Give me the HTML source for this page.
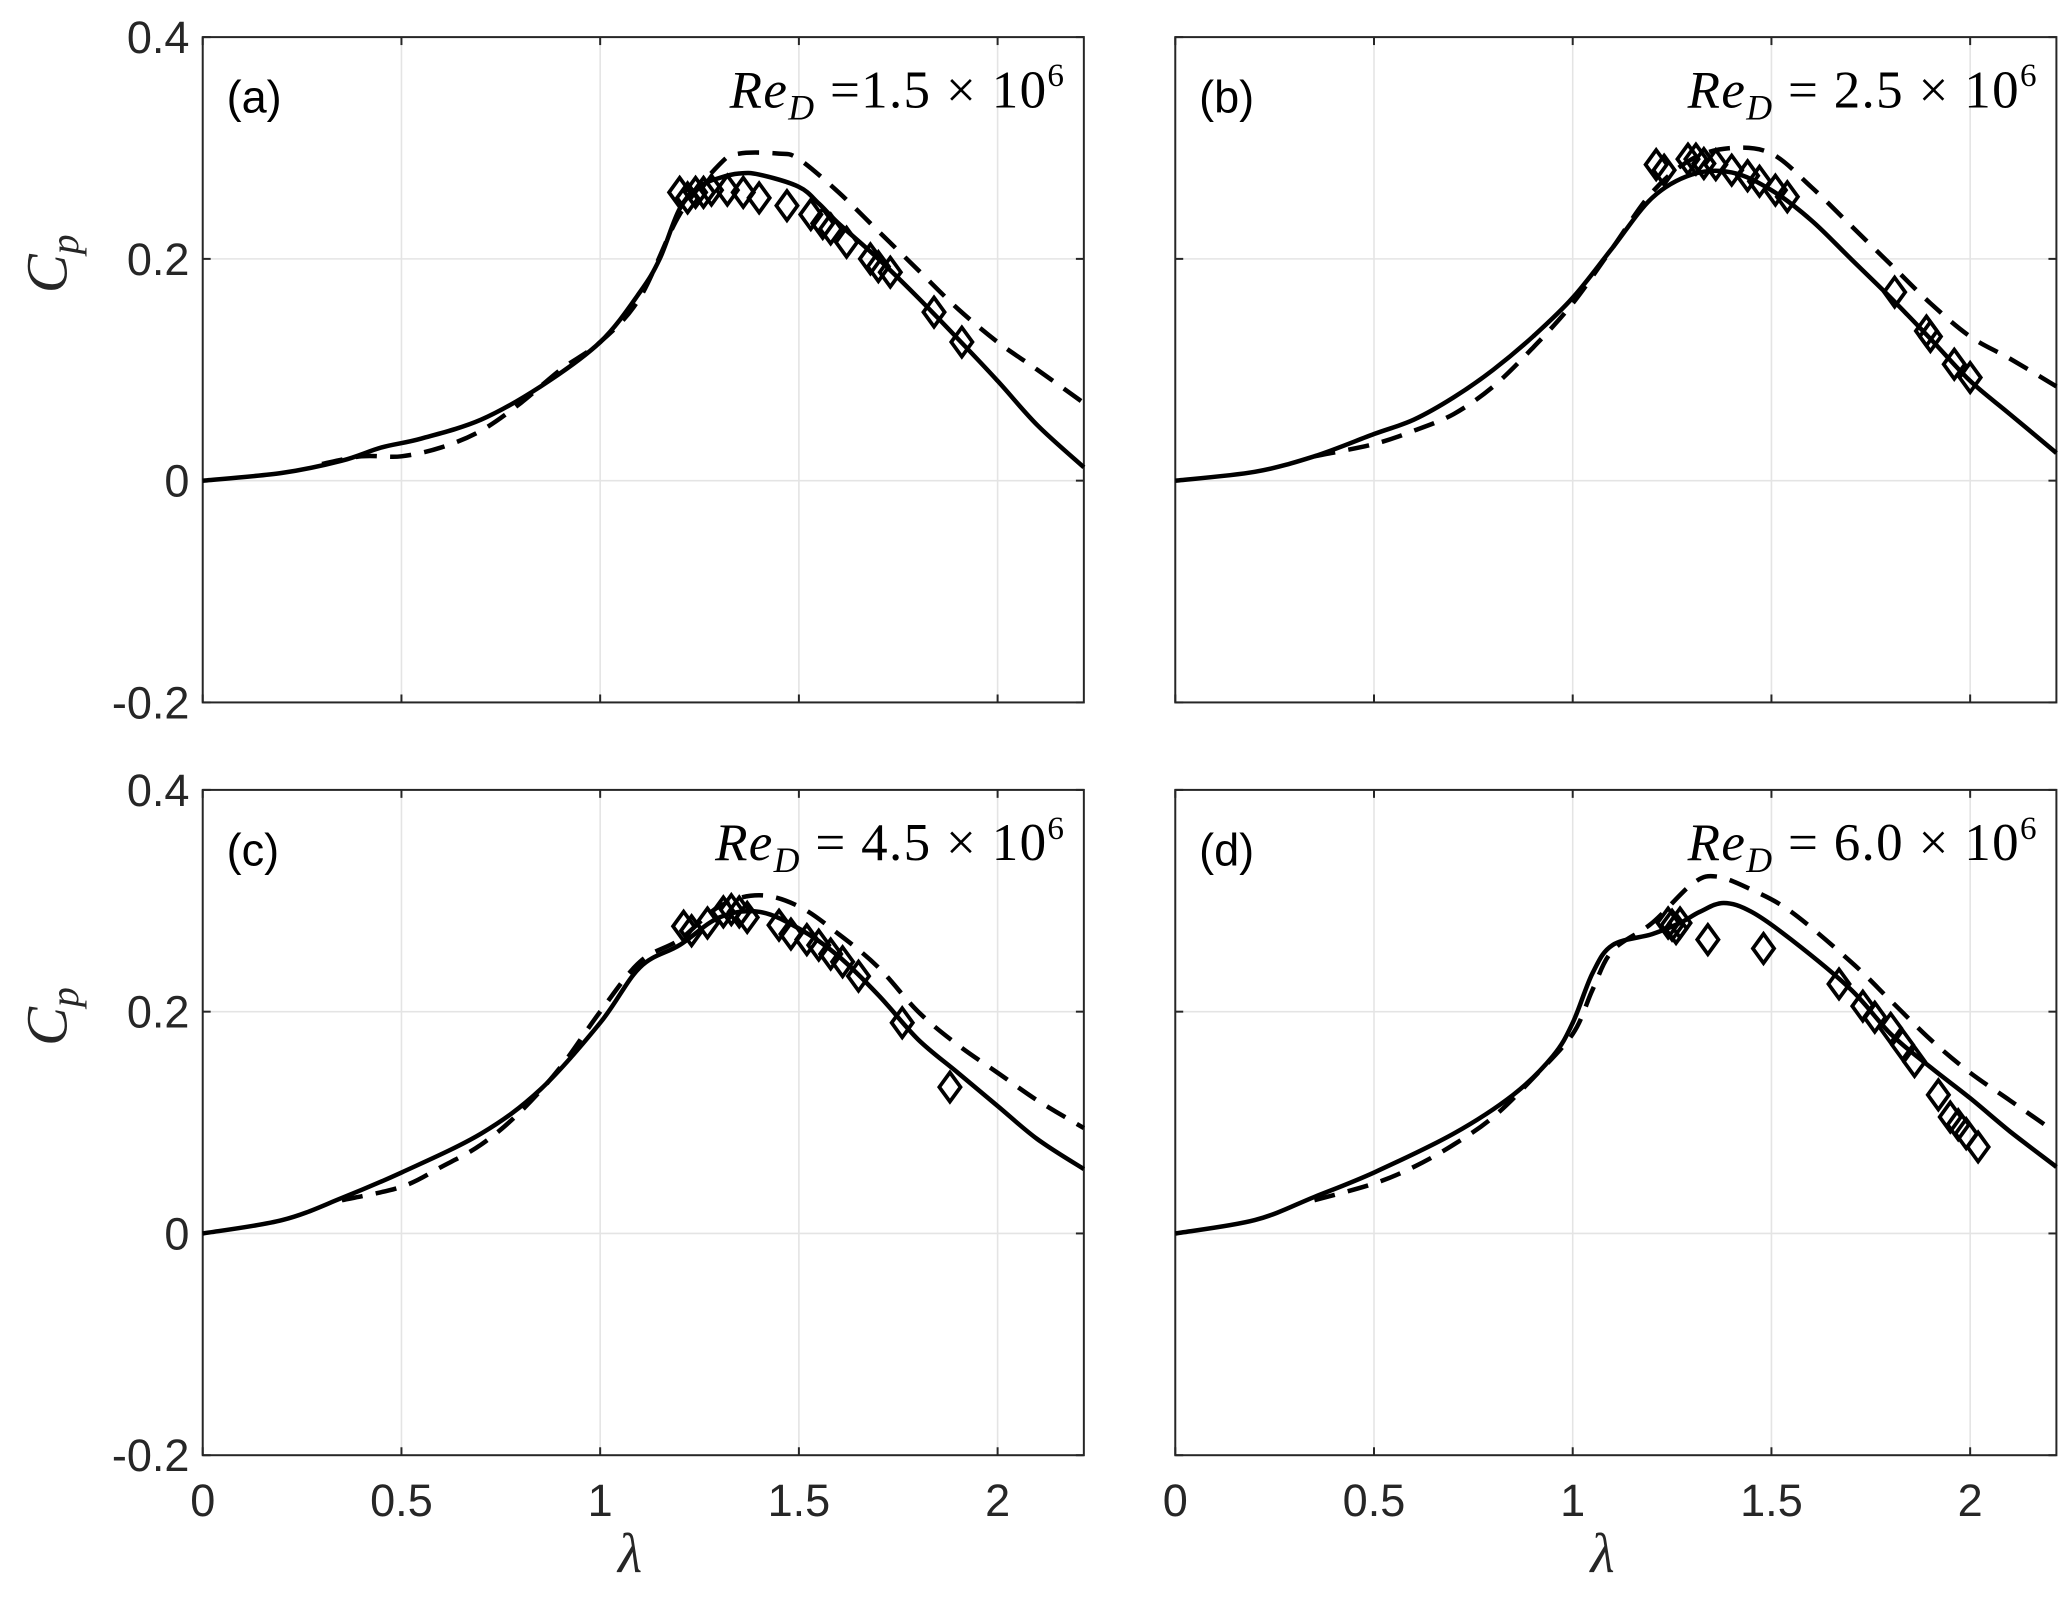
<!DOCTYPE html>
<html><head><meta charset="utf-8"><style>
html,body{margin:0;padding:0;background:#fff;}
svg{display:block;}
text{font-family:"Liberation Sans",sans-serif;}
text.serif{font-family:"Liberation Serif",serif;}
</style></head><body>
<svg id="fig" width="2067" height="1601" viewBox="0 0 1560 1208" preserveAspectRatio="none" xmlns="http://www.w3.org/2000/svg"></svg>
<script>
const xTicks=[0,0.5,1,1.5,2];
const xTickLabels=["0","0.5","1","1.5","2"];
const yTicks=[0.4,0.2,0,-0.2];
const yTickLabels=["0.4","0.2","0","-0.2"];
const panelLabels=["(a)","(b)","(c)","(d)"];
const reValues=["=1.5","= 2.5","= 4.5","= 6.0"];
const solidA=[[0,0],[0.2,0.007],[0.35,0.018],[0.45,0.03],[0.55,0.038],[0.7,0.055],[0.85,0.085],[1.0,0.125],[1.1,0.17],[1.15,0.2],[1.2,0.245],[1.25,0.265],[1.3,0.273],[1.35,0.277],[1.4,0.276],[1.5,0.265],[1.55,0.25],[1.6,0.232],[1.7,0.2],[1.8,0.165],[1.9,0.128],[2.0,0.09],[2.1,0.05],[2.217,0.012]];
const dashA=[[0.3,0.015],[0.4,0.022],[0.5,0.022],[0.6,0.03],[0.7,0.045],[0.8,0.07],[0.9,0.1],[1.0,0.125],[1.1,0.165],[1.2,0.24],[1.3,0.285],[1.35,0.295],[1.45,0.295],[1.5,0.29],[1.6,0.26],[1.7,0.225],[1.8,0.19],[1.9,0.155],[2.0,0.125],[2.1,0.1],[2.217,0.07]];
const markA=[[1.2,0.26],[1.22,0.255],[1.24,0.26],[1.26,0.26],[1.28,0.262],[1.32,0.262],[1.36,0.26],[1.4,0.255],[1.47,0.248],[1.53,0.24],[1.56,0.232],[1.58,0.227],[1.62,0.215],[1.68,0.2],[1.7,0.193],[1.73,0.188],[1.84,0.152],[1.91,0.125]];
const solidB=[[0,0],[0.2,0.008],[0.35,0.022],[0.5,0.042],[0.6,0.055],[0.7,0.075],[0.8,0.1],[0.9,0.13],[1.0,0.165],[1.1,0.21],[1.2,0.255],[1.3,0.276],[1.4,0.278],[1.5,0.262],[1.6,0.235],[1.7,0.2],[1.8,0.165],[1.9,0.128],[2.0,0.09],[2.1,0.06],[2.217,0.025]];
const dashB=[[0.35,0.022],[0.5,0.033],[0.6,0.045],[0.7,0.06],[0.8,0.085],[0.9,0.12],[1.0,0.16],[1.1,0.21],[1.2,0.26],[1.3,0.29],[1.4,0.3],[1.5,0.295],[1.6,0.265],[1.7,0.23],[1.8,0.195],[1.9,0.16],[2.0,0.13],[2.1,0.11],[2.217,0.085]];
const markB=[[1.21,0.285],[1.23,0.28],[1.29,0.29],[1.31,0.29],[1.33,0.286],[1.36,0.285],[1.4,0.28],[1.44,0.275],[1.47,0.27],[1.51,0.262],[1.54,0.256],[1.81,0.17],[1.89,0.135],[1.9,0.13],[1.96,0.105],[2.0,0.093]];
const solidC=[[0,0],[0.2,0.012],[0.35,0.032],[0.5,0.055],[0.7,0.09],[0.85,0.13],[1.0,0.19],[1.1,0.24],[1.2,0.26],[1.3,0.285],[1.4,0.29],[1.5,0.275],[1.6,0.25],[1.7,0.215],[1.8,0.175],[1.9,0.145],[2.0,0.115],[2.1,0.085],[2.217,0.058]];
const dashC=[[0.35,0.03],[0.5,0.042],[0.6,0.06],[0.7,0.08],[0.8,0.11],[0.9,0.15],[1.0,0.2],[1.1,0.245],[1.2,0.265],[1.3,0.295],[1.4,0.305],[1.5,0.295],[1.6,0.27],[1.7,0.24],[1.8,0.2],[1.9,0.17],[2.0,0.145],[2.1,0.12],[2.217,0.095]];
const markC=[[1.21,0.277],[1.23,0.273],[1.27,0.28],[1.31,0.29],[1.33,0.292],[1.35,0.29],[1.37,0.285],[1.45,0.278],[1.48,0.27],[1.52,0.265],[1.55,0.26],[1.58,0.252],[1.61,0.245],[1.65,0.232],[1.76,0.19],[1.88,0.132]];
const solidD=[[0,0],[0.2,0.012],[0.35,0.033],[0.5,0.055],[0.7,0.09],[0.85,0.125],[0.95,0.16],[1.0,0.19],[1.05,0.235],[1.1,0.26],[1.2,0.27],[1.27,0.28],[1.32,0.29],[1.38,0.298],[1.45,0.29],[1.55,0.265],[1.7,0.22],[1.8,0.18],[1.9,0.15],[2.0,0.122],[2.1,0.092],[2.217,0.06]];
const dashD=[[0.35,0.03],[0.5,0.045],[0.6,0.06],[0.7,0.08],[0.8,0.105],[0.9,0.14],[1.0,0.18],[1.05,0.22],[1.1,0.255],[1.2,0.28],[1.3,0.315],[1.36,0.322],[1.45,0.31],[1.55,0.29],[1.7,0.245],[1.8,0.21],[1.9,0.175],[2.0,0.145],[2.1,0.12],[2.2,0.095]];
const markD=[[1.24,0.28],[1.25,0.278],[1.26,0.275],[1.27,0.28],[1.34,0.265],[1.48,0.257],[1.67,0.225],[1.73,0.205],[1.76,0.195],[1.8,0.185],[1.83,0.17],[1.86,0.155],[1.92,0.125],[1.95,0.105],[1.97,0.098],[1.99,0.09],[2.02,0.078]];

const NS="http://www.w3.org/2000/svg";
const svg=document.getElementById('fig');
function mk(tag,attrs,parent){const e=document.createElementNS(NS,tag);for(const k in attrs)e.setAttribute(k,attrs[k]);(parent||svg).appendChild(e);return e;}
const panels=[
 {x0:153,y0:28,solid:solidA,dash:dashA,mark:markA,yl:true,xl:false},
 {x0:887,y0:28,solid:solidB,dash:dashB,mark:markB,yl:false,xl:false},
 {x0:153,y0:596,solid:solidC,dash:dashC,mark:markC,yl:true,xl:true},
 {x0:887,y0:596,solid:solidD,dash:dashD,mark:markD,yl:false,xl:true}];
const XMAX=2.217, W=665, H=502;
function smooth(pts){
 let d='M'+pts[0][0].toFixed(1)+','+pts[0][1].toFixed(1);
 for(let i=0;i<pts.length-1;i++){
  const p0=pts[Math.max(0,i-1)],p1=pts[i],p2=pts[i+1],p3=pts[Math.min(pts.length-1,i+2)];
  const c1x=p1[0]+(p2[0]-p0[0])/6,c1y=p1[1]+(p2[1]-p0[1])/6;
  const c2x=p2[0]-(p3[0]-p1[0])/6,c2y=p2[1]-(p3[1]-p1[1])/6;
  d+=` C${c1x.toFixed(1)},${c1y.toFixed(1)} ${c2x.toFixed(1)},${c2y.toFixed(1)} ${p2[0].toFixed(1)},${p2[1].toFixed(1)}`;
 }
 return d;
}
panels.forEach((p,i)=>{
 const g=mk('g',{});
 
 
 const sx=v=>p.x0+v/XMAX*W;
 const sy=v=>p.y0+(0.4-v)/0.6*H;
 xTicks.forEach(t=>{const l=mk('line',{x1:sx(t),x2:sx(t),y1:p.y0,y2:p.y0+H,stroke:'#e4e4e4','stroke-width':1.2},g);
  });
 yTicks.forEach(t=>{const l=mk('line',{x1:p.x0,x2:p.x0+W,y1:sy(t),y2:sy(t),stroke:'#e4e4e4','stroke-width':1.2},g);
  });
 const fr=mk('rect',{x:p.x0,y:p.y0,width:W,height:H,fill:'none',stroke:'#262626','stroke-width':1.5},g);
 
 xTicks.forEach(t=>{mk('line',{x1:sx(t),x2:sx(t),y1:p.y0+H,y2:p.y0+H-6,stroke:'#262626','stroke-width':1.5},g);mk('line',{x1:sx(t),x2:sx(t),y1:p.y0,y2:p.y0+6,stroke:'#262626','stroke-width':1.5},g);});
 yTicks.forEach(t=>{mk('line',{x1:p.x0,x2:p.x0+6,y1:sy(t),y2:sy(t),stroke:'#262626','stroke-width':1.5},g);mk('line',{x1:p.x0+W,x2:p.x0+W-6,y1:sy(t),y2:sy(t),stroke:'#262626','stroke-width':1.5},g);});
 if(p.yl){yTicks.forEach((t,j)=>{const tx=mk('text',{x:p.x0-10,y:sy(t)+12,'text-anchor':'end','font-size':34,fill:'#262626'},g);tx.textContent=yTickLabels[j];
  });
  const yt=mk('text',{class:'serif',x:0,y:0,'font-style':'italic','font-size':44,fill:'#262626',transform:`translate(50,${p.y0+H/2-80}) rotate(-90)`,'text-anchor':'middle'},g);
  yt.innerHTML='C<tspan font-size="30" dy="9">p</tspan>';
  }
 if(p.xl){xTicks.forEach((t,j)=>{const tx=mk('text',{x:sx(t),y:p.y0+H+46,'text-anchor':'middle','font-size':34,fill:'#262626'},g);tx.textContent=xTickLabels[j];
  });
  const xt=mk('text',{class:'serif',x:p.x0+W/2-10,y:p.y0+H+88,'text-anchor':'middle','font-style':'italic','font-size':42,fill:'#262626'},g);xt.textContent='λ';
  }
 const pl=mk('text',{x:p.x0+18,y:p.y0+57,'font-size':34,fill:'#000'},g);pl.textContent=panelLabels[i];
 
 const re=mk('text',{class:'serif',x:p.x0+W-14,y:p.y0+53,'text-anchor':'end','font-size':40,fill:'#000','letter-spacing':1},g);
 re.innerHTML='<tspan font-style="italic">Re</tspan><tspan font-style="italic" font-size="27" dy="9">D</tspan><tspan dy="-9"> '+reValues[i]+' × 10</tspan><tspan font-size="25" dy="-16">6</tspan>';
 
 const conv=arr=>arr.map(q=>[sx(q[0]),sy(q[1])]);
 const s=mk('path',{d:smooth(conv(p.solid)),fill:'none',stroke:'#000','stroke-width':3.4,'stroke-linejoin':'round'},g);
 
 const d=mk('path',{d:smooth(conv(p.dash)),fill:'none',stroke:'#000','stroke-width':3.4,'stroke-dasharray':'16 10'},g);
 
 p.mark.forEach(q=>{const cx=sx(q[0]),cy=sy(q[1]);
  const m=mk('path',{d:`M${cx},${cy-11} L${cx+8},${cy} L${cx},${cy+11} L${cx-8},${cy} Z`,fill:'none',stroke:'#000','stroke-width':2.8},g);
  });
});
</script>
</body></html>
